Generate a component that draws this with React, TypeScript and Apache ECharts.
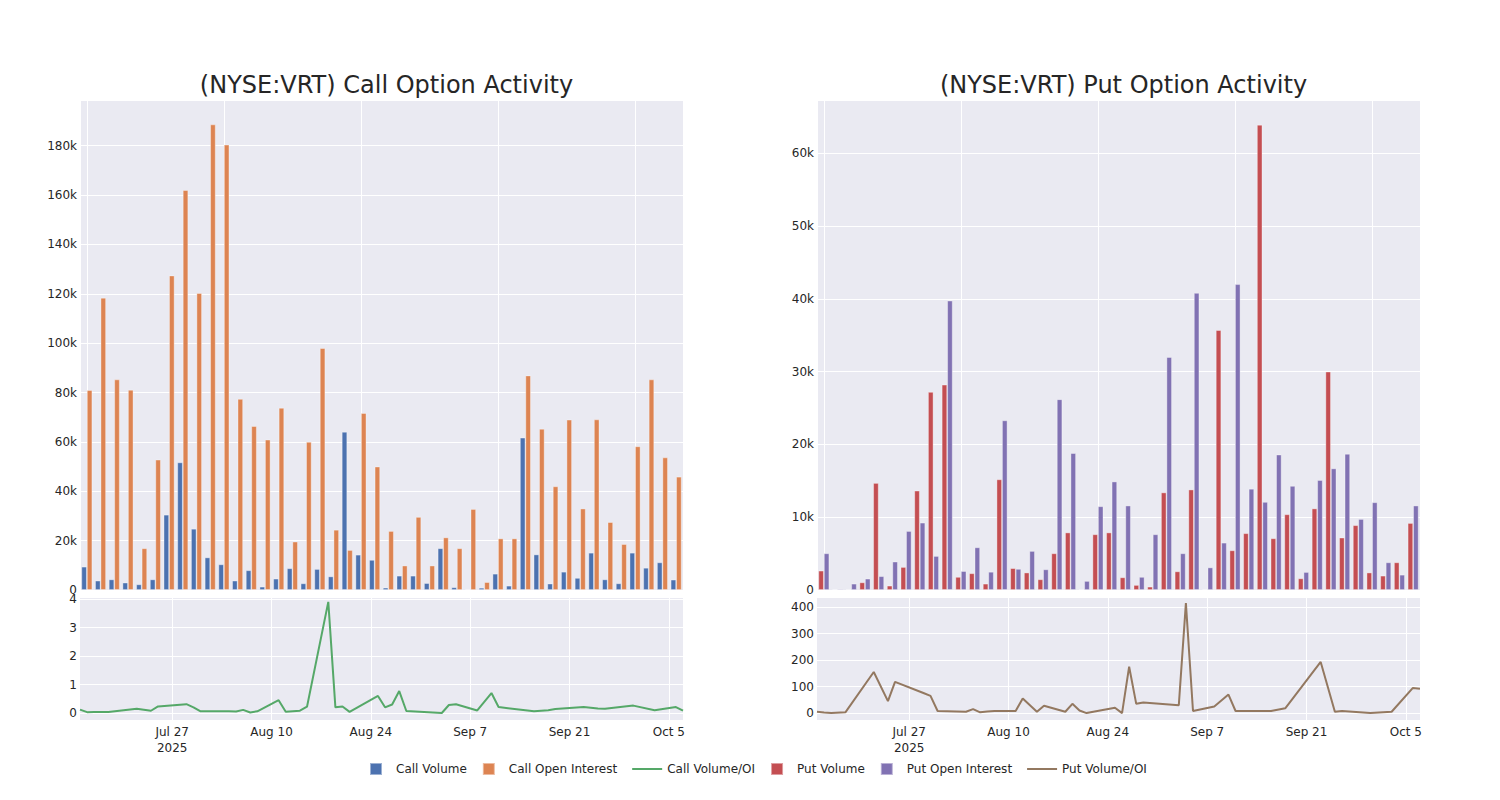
import React, { useEffect, useRef } from "react";
import * as echarts from "echarts";

const dates = [
  "2025-07-14", "2025-07-15", "2025-07-16", "2025-07-18", "2025-07-22", "2025-07-24", "2025-07-25", "2025-07-29", "2025-07-30", "2025-07-31",
  "2025-08-04", "2025-08-05", "2025-08-06", "2025-08-07", "2025-08-08", "2025-08-11", "2025-08-12", "2025-08-14", "2025-08-15", "2025-08-18",
  "2025-08-19", "2025-08-20", "2025-08-21", "2025-08-25", "2025-08-26", "2025-08-27", "2025-08-28", "2025-08-29",
  "2025-09-03", "2025-09-04", "2025-09-05", "2025-09-08", "2025-09-10", "2025-09-11", "2025-09-16", "2025-09-18", "2025-09-19", "2025-09-23", "2025-09-25", "2025-09-26", "2025-09-30",
  "2025-10-03", "2025-10-06", "2025-10-07",
];

const callVolume = [
  9450, 3800, 4300, 3000, 2300, 4300, 30500, 51700, 24800, 13200,
  10400, 3800, 8000, 1350, 4600, 8800, 2700, 8500, 5500, 64100,
  14300, 12200, 950, 5800, 5800, 2800, 16900, 1100,
  200, 900, 6600, 1750, 61700, 14400, 2600, 7400, 4900, 15100, 4300, 2700, 15100,
  9000, 11200, 4200,
];
const callOpenInterest = [
  81000, 118400, 85300, 81100, 16900, 52800, 127400, 162000, 120300, 188600,
  180400, 77400, 66400, 60900, 73800, 19600, 60000, 98000, 24400, 16200,
  71700, 50000, 23900, 9900, 29600, 9900, 21300, 16900,
  32800, 3200, 20900, 20900, 86900, 65300, 42000, 69000, 33000, 69100, 27500, 18600, 58200,
  85300, 53700, 45900,
];
const callRatio = [
  0.12, 0.03, 0.04, 0.035, 0.15, 0.08, 0.23, 0.31, 0.2, 0.06,
  0.06, 0.05, 0.11, 0.02, 0.06, 0.45, 0.045, 0.08, 0.22, 3.9,
  0.2, 0.23, 0.04, 0.6, 0.2, 0.3, 0.77, 0.07,
  0.0, 0.28, 0.31, 0.09, 0.7, 0.21, 0.06, 0.1, 0.14, 0.21, 0.16, 0.15, 0.26,
  0.1, 0.21, 0.08,
];

const putVolume = [
  2660, 100, 50, 1050, 14700, 600, 3160, 13650, 27200, 28200,
  1800, 2300, 870, 15200, 3000, 2400, 1470, 5040, 7900, 50,
  7650, 7900, 1740, 690, 460, 13400, 2560, 13800,
  90, 35700, 5450, 7800, 63900, 7100, 10400, 1600, 11200, 30000, 7200, 8900, 2400,
  1970, 3800, 9200,
];
const putOpenInterest = [
  5040, 150, 870, 1560, 1900, 3900, 8100, 9250, 4670, 39750,
  2600, 5860, 2500, 23300, 2900, 5360, 2840, 26200, 18800, 1240,
  11500, 14900, 11600, 1800, 7650, 32000, 5040, 40800,
  3100, 6500, 42000, 13900, 12100, 18600, 14300, 2470, 15100, 16700, 18700, 9750, 12050,
  3800, 2100, 11600,
];
const putRatio = [
  5, 2, 0, 3, 155, 45, 118, 76, 65, 8,
  5, 15, 3, 6, 8, 8, 55, 5, 28, 5,
  35, 10, 0, 20, 0, 175, 35, 40,
  30, 415, 8, 25, 70, 8, 8, 18, 53, 193, 5, 8, 0,
  5, 95, 92,
];

const timeTickDates = ["2025-07-27", "2025-08-10", "2025-08-24", "2025-09-07", "2025-09-21", "2025-10-05"];
const timeTickLabels = ["Jul 27\n2025", "Aug 10", "Aug 24", "Sep 7", "Sep 21", "Oct 5"];

const FONT = "DejaVu Sans";
const TEXT = "#262626";
const BG = "#EAEAF2";

const dayOffset = (s: string) => {
  const [y, m, d] = s.split("-").map(Number);
  return Math.round((Date.UTC(y, m - 1, d) - Date.UTC(2025, 6, 14)) / 86400000);
};

export default function App() {
  const ref = useRef<HTMLDivElement>(null);

  useEffect(() => {
    document.body.style.margin = "0";
    if (!ref.current) return;
    const chart = echarts.init(ref.current, undefined, { renderer: "svg" });

    const firstDay = dayOffset(dates[0]);
    const lastDay = dayOffset(dates[dates.length - 1]);
    const tickDays = timeTickDates.map(dayOffset);
    const labelFor = (v: number) => {
      const i = tickDays.indexOf(Math.round(v));
      return i >= 0 ? timeTickLabels[i] : "";
    };
    const kFmt = (v: number) => (v === 0 ? "0" : `${Math.round(v / 1000)}k`);
    const intFmt = (v: number) => (Math.abs(v - Math.round(v)) < 1e-6 ? String(Math.round(v)) : "");

    const gridLine = { show: true, lineStyle: { color: "#ffffff", width: 1 } };
    const labelStyle = { fontFamily: FONT, fontSize: 12, color: TEXT };

    const catAxis = (gridIndex: number) => ({
      type: "category",
      gridIndex,
      data: dates,
      axisLine: { show: false },
      axisTick: { show: false },
      axisLabel: { show: false },
      splitLine: { show: false },
    });
    const idxAxis = (gridIndex: number) => ({
      type: "value",
      gridIndex,
      min: -0.5,
      max: dates.length - 0.5,
      splitNumber: 5,
      axisLine: { show: false },
      axisTick: { show: false },
      axisLabel: { show: false },
      splitLine: gridLine,
    });
    const dayAxis = (gridIndex: number) => ({
      type: "value",
      gridIndex,
      min: firstDay,
      max: lastDay,
      axisLine: { show: false },
      axisTick: { show: false, customValues: tickDays },
      axisLabel: {
        ...labelStyle,
        customValues: tickDays,
        formatter: labelFor,
        margin: 4,
        lineHeight: 16,
      },
      splitLine: gridLine,
    });

    const barStyle = (color: string) => ({
      color,
      borderColor: "rgba(255,255,255,0.45)",
      borderWidth: 0.8,
    });

    const sq = "path://M0,0H12V12H0Z";
    const ln = "path://M0,0H30V2H0Z";

    const option = {
      animation: false,
      backgroundColor: "#ffffff",
      textStyle: { fontFamily: FONT },
      title: [
        {
          text: "(NYSE:VRT) Call Option Activity",
          left: 381.5,
          top: 68,
          textAlign: "center",
          textStyle: { fontFamily: FONT, fontSize: 24, fontWeight: "normal", color: TEXT },
        },
        {
          text: "(NYSE:VRT) Put Option Activity",
          left: 1118.5,
          top: 68,
          textAlign: "center",
          textStyle: { fontFamily: FONT, fontSize: 24, fontWeight: "normal", color: TEXT },
        },
      ],
      legend: {
        left: 369,
        top: 762,
        padding: 0,
        itemWidth: 30,
        itemHeight: 12,
        itemGap: 15,
        textStyle: { fontFamily: FONT, fontSize: 12, color: TEXT },
        data: [
          { name: "Call Volume", icon: sq },
          { name: "Call Open Interest", icon: sq },
          { name: "Call Volume/OI", icon: ln },
          { name: "Put Volume", icon: sq },
          { name: "Put Open Interest", icon: sq },
          { name: "Put Volume/OI", icon: ln },
        ],
      },
      grid: [
        { left: 80, top: 100, width: 603, height: 490, show: true, backgroundColor: BG, borderWidth: 0 },
        { left: 80, top: 597, width: 603, height: 123, show: true, backgroundColor: BG, borderWidth: 0 },
        { left: 817, top: 100, width: 603, height: 490, show: true, backgroundColor: BG, borderWidth: 0 },
        { left: 817, top: 597, width: 603, height: 123, show: true, backgroundColor: BG, borderWidth: 0 },
      ],
      xAxis: [catAxis(0), idxAxis(0), dayAxis(1), catAxis(2), idxAxis(2), dayAxis(3)],
      yAxis: [
        {
          type: "value", gridIndex: 0, min: 0, max: 198500, interval: 20000,
          axisLine: { show: false }, axisTick: { show: false },
          axisLabel: { ...labelStyle, margin: 3, formatter: kFmt, showMaxLabel: false },
          splitLine: gridLine,
        },
        {
          type: "value", gridIndex: 1, min: -0.245, max: 4.07, splitNumber: 5,
          axisLine: { show: false }, axisTick: { show: false },
          axisLabel: { ...labelStyle, margin: 3, formatter: intFmt, showMinLabel: false, showMaxLabel: false },
          splitLine: gridLine,
        },
        {
          type: "value", gridIndex: 2, min: 0, max: 67300, interval: 10000,
          axisLine: { show: false }, axisTick: { show: false },
          axisLabel: { ...labelStyle, margin: 3, formatter: kFmt, showMaxLabel: false },
          splitLine: gridLine,
        },
        {
          type: "value", gridIndex: 3, min: -26, max: 438, splitNumber: 5,
          axisLine: { show: false }, axisTick: { show: false },
          axisLabel: { ...labelStyle, margin: 3, formatter: intFmt, showMinLabel: false, showMaxLabel: false },
          splitLine: gridLine,
        },
      ],
      series: [
        {
          name: "Call Volume", type: "bar", xAxisIndex: 0, yAxisIndex: 0,
          data: callVolume, color: "#4C72B0", itemStyle: barStyle("#4C72B0"),
          barGap: "0%", barCategoryGap: "20%",
        },
        {
          name: "Call Open Interest", type: "bar", xAxisIndex: 0, yAxisIndex: 0,
          data: callOpenInterest, color: "#DD8452", itemStyle: barStyle("#DD8452"),
          barGap: "0%", barCategoryGap: "20%",
        },
        {
          name: "Call Volume/OI", type: "line", xAxisIndex: 2, yAxisIndex: 1,
          data: dates.map((d, i) => [dayOffset(d), callRatio[i]]),
          color: "#55A868", symbol: "none", lineStyle: { color: "#55A868", width: 2 },
        },
        {
          name: "Put Volume", type: "bar", xAxisIndex: 3, yAxisIndex: 2,
          data: putVolume, color: "#C44E52", itemStyle: barStyle("#C44E52"),
          barGap: "0%", barCategoryGap: "20%",
        },
        {
          name: "Put Open Interest", type: "bar", xAxisIndex: 3, yAxisIndex: 2,
          data: putOpenInterest, color: "#8172B3", itemStyle: barStyle("#8172B3"),
          barGap: "0%", barCategoryGap: "20%",
        },
        {
          name: "Put Volume/OI", type: "line", xAxisIndex: 5, yAxisIndex: 3,
          data: dates.map((d, i) => [dayOffset(d), putRatio[i]]),
          color: "#937860", symbol: "none", lineStyle: { color: "#937860", width: 2 },
        },
      ],
    };

    chart.setOption(option as any);
    return () => chart.dispose();
  }, []);

  return <div ref={ref} style={{ width: 1500, height: 800 }} />;
}
